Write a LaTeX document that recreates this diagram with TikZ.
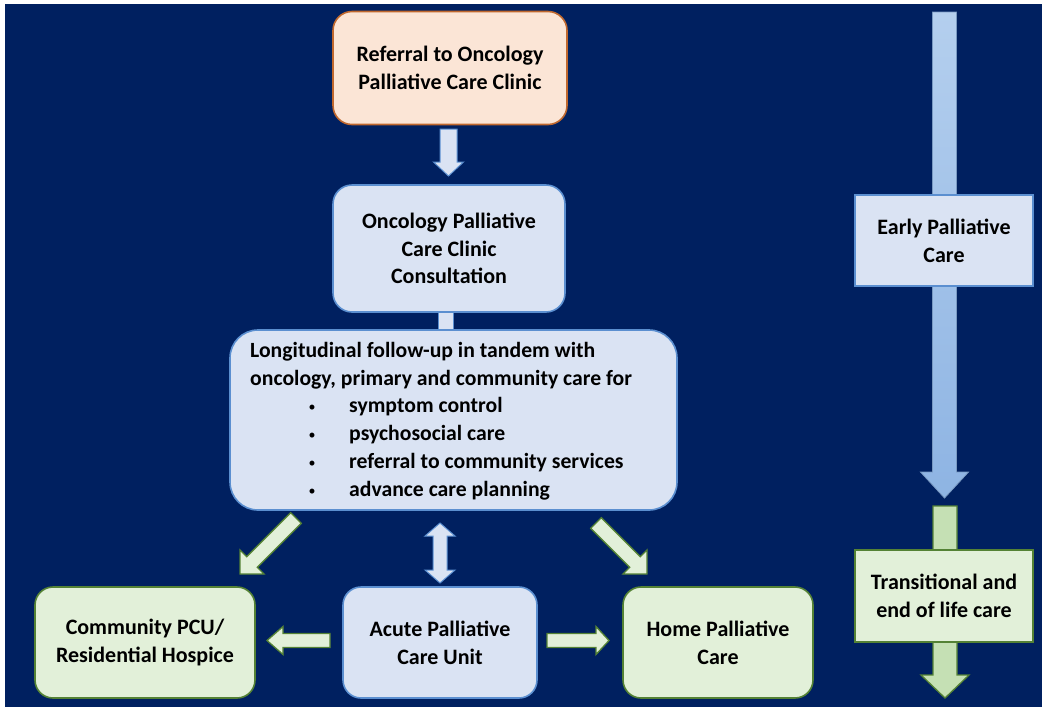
\documentclass[tikz,border=0pt]{standalone}
\usepackage{fontspec}
\setmainfont{Carlito}
\usetikzlibrary{calc}
\definecolor{bg}{HTML}{002060}
\definecolor{lblue}{HTML}{DAE3F3}
\definecolor{lblueline}{HTML}{5B8FD0}
\definecolor{peach}{HTML}{FBE5D6}
\definecolor{peachline}{HTML}{C0682E}
\definecolor{lgreen}{HTML}{E2F0D9}
\definecolor{greenline}{HTML}{548235}
\definecolor{midgreen}{HTML}{C5E0B4}
\definecolor{colA}{HTML}{B4CFEE}
\definecolor{colB}{HTML}{8EB4E3}
\newcommand\blockarrow[6]{%
  \path ($(#2)!#5!(#1)$) coordinate (ba-h);
  \draw[#6] ($(#1)!#3!90:(#2)$) -- ($(ba-h)!#3!-90:(#1)$) -- ($(ba-h)!#4!-90:(#1)$) -- (#2)
    -- ($(ba-h)!#4!90:(#1)$) -- ($(ba-h)!#3!90:(#1)$) -- ($(#1)!#3!-90:(#2)$) -- cycle;
}
\newcommand\dblarrow[6]{%
  \path ($(#1)!#5!(#2)$) coordinate (da-a) ($(#2)!#5!(#1)$) coordinate (da-b);
  \draw[#6] (#1) -- ($(da-a)!#4!90:(#2)$) -- ($(da-a)!#3!90:(#2)$) -- ($(da-b)!#3!-90:(#1)$)
    -- ($(da-b)!#4!-90:(#1)$) -- (#2) -- ($(da-b)!#4!90:(#1)$) -- ($(da-b)!#3!90:(#1)$)
    -- ($(da-a)!#3!-90:(#2)$) -- ($(da-a)!#4!-90:(#2)$) -- cycle;
}
\tikzset{
  txt/.style={font=\bfseries\fontsize{22}{27.8}\selectfont, text=black, align=center, inner sep=0pt},
  box/.style={txt, line width=1.6pt},
  bluebox/.style={box, fill=lblue, draw=lblueline},
  greenbox/.style={box, fill=lgreen, draw=greenline},
  peachbox/.style={box, fill=peach, draw=peachline},
  bluearrow/.style={fill=lblue, draw=lblueline, line width=1pt, line join=miter},
  greenarrow/.style={fill=lgreen, draw=greenline, line width=1.3pt, line join=miter},
  colblue/.style={top color=colA, bottom color=colB, draw=colB!85!black, line width=0.8pt},
  colgreen/.style={fill=midgreen, draw=greenline, line width=1.3pt},
  listtxt/.style={font=\bfseries\fontsize{21.7}{27.8}\selectfont, text=black, inner sep=0pt, anchor=west},
  bullettxt/.style={font=\fontsize{14}{14}\selectfont, text=black, inner sep=0pt}
}
\begin{document}
\begin{tikzpicture}[x=1pt,y=-1pt]
\useasboundingbox (0,0) rectangle (1046,716);
\fill[white] (0,0) rectangle (1046,716);
\fill[bg] (5,4) rectangle (1042,707);

% right column arrows
\coordinate (cb-tail) at (944.5,12);
\coordinate (cb-tip) at (944.5,498);
\blockarrow{cb-tail}{cb-tip}{12pt}{24pt}{26pt}{colblue}
\coordinate (cg-tail) at (945,506);
\coordinate (cg-tip) at (945,698);
\blockarrow{cg-tail}{cg-tip}{12pt}{24pt}{23pt}{colgreen}

\node[bluebox, rounded corners=0pt, minimum width=178pt, minimum height=91pt] (early) at (944,240.5) {Early Palliative\\Care};
\node[greenbox, rounded corners=0pt, minimum width=178pt, minimum height=92pt] (trans) at (944,596) {Transitional and\\end of life care};

% main column
\node[peachbox, rounded corners=19pt, minimum width=234pt, minimum height=113pt] (ref) at (450,68) {Referral to Oncology\\Palliative Care Clinic};

\coordinate (a1t) at (448.5,129);
\coordinate (a1h) at (448.5,176);
\blockarrow{a1t}{a1h}{8.5pt}{15pt}{14pt}{bluearrow}

\draw[bluearrow] (438,300) rectangle (453,340);

\node[bluebox, rounded corners=19pt, minimum width=232pt, minimum height=127pt] (consult) at (449,248.5) {Oncology Palliative\\Care Clinic\\Consultation};

\node[bluebox, rounded corners=28pt, minimum width=447pt, minimum height=180pt] (long) at (453.5,420) {};
\node[listtxt] (l1) at (250,352) {Longitudinal follow-up in tandem with};
\node[listtxt] (l2) at (250,380) {oncology, primary and community care for};
\foreach \yy/\tt/\nm in {407/symptom control/b1, 435/psychosocial care/b2, 463/referral to community services/b3, 491/advance care planning/b4}{
  \node[bullettxt] (\nm d) at (312,\yy+1.5) {•};
  \node[listtxt] (\nm) at (349,\yy) {\tt};
}

\node[greenbox, rounded corners=18pt, minimum width=220pt, minimum height=111pt] (comm) at (145,642.5) {Community PCU/\\Residential Hospice};
\node[bluebox, rounded corners=18pt, minimum width=194pt, minimum height=111pt] (acute) at (440,642.5) {Acute Palliative\\Care Unit};
\node[greenbox, rounded corners=18pt, minimum width=190pt, minimum height=111pt] (home) at (718,642.5) {Home Palliative\\Care};

% arrows below the long box
\coordinate (dl-t) at (296,518);
\coordinate (dl-h) at (240,574);
\blockarrow{dl-t}{dl-h}{7.5pt}{17pt}{17pt}{greenarrow}
\coordinate (dr-t) at (596,523);
\coordinate (dr-h) at (647,574);
\blockarrow{dr-t}{dr-h}{7.5pt}{17pt}{17pt}{greenarrow}

\coordinate (v-a) at (440,523);
\coordinate (v-b) at (440,583);
\dblarrow{v-a}{v-b}{7pt}{15pt}{13pt}{bluearrow}

\coordinate (hl-t) at (330,640.5);
\coordinate (hl-h) at (267,640.5);
\blockarrow{hl-t}{hl-h}{7pt}{14pt}{16pt}{greenarrow}
\coordinate (hr-t) at (547,640.5);
\coordinate (hr-h) at (609,640.5);
\blockarrow{hr-t}{hr-h}{7pt}{14pt}{13pt}{greenarrow}
\end{tikzpicture}
\end{document}
